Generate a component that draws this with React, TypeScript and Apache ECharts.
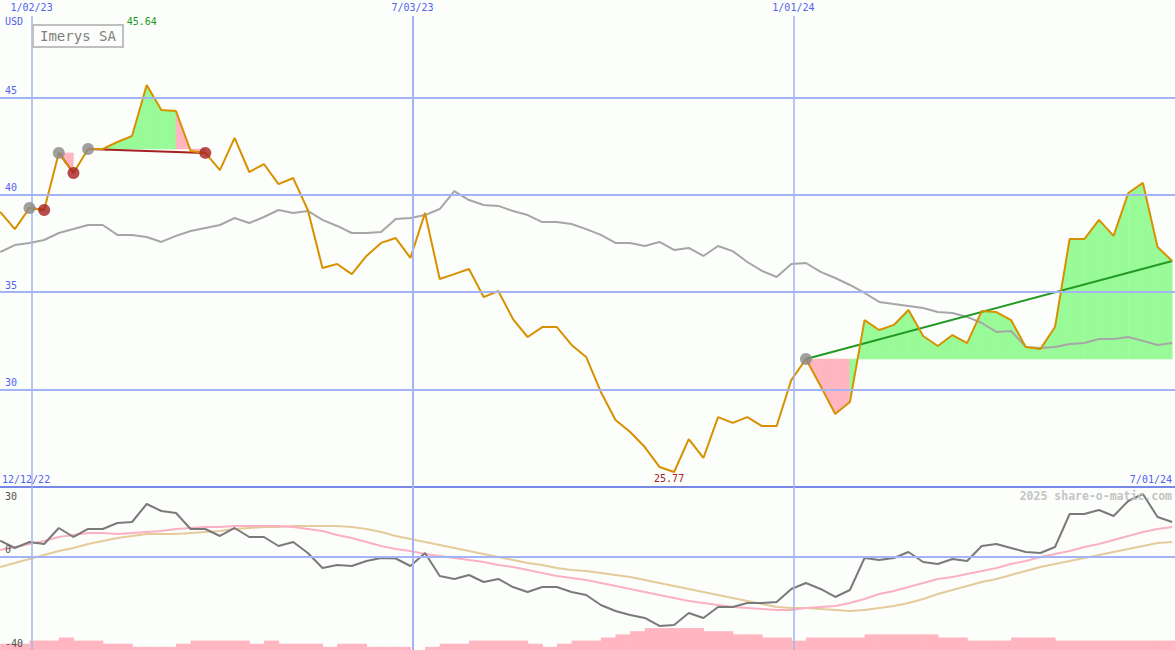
import React, { useEffect, useRef } from "react";
import * as echarts from "echarts";

// ---- data (weekly, index 0 = week of 18 Dec 2022) ----
const START_DATE = Date.UTC(2022, 11, 18);
const WEEK_MS = 7 * 86400000;

const price = [
  39.12, 38.24, 39.32, 39.22, 42.15, 41.12, 42.35, 42.35, 42.71, 43.02,
  45.64, 44.35, 44.3, 42.25, 42.15, 41.27, 42.92, 41.17, 41.58, 40.55,
  40.86, 39.22, 36.24, 36.45, 35.93, 36.86, 37.53, 37.78, 36.76, 39.07,
  35.68, 35.93, 36.19, 34.75, 35.06, 33.62, 32.7, 33.21, 33.21, 32.29,
  31.67, 29.88, 28.44, 27.82, 27.05, 26.03, 25.77, 27.46, 26.49, 28.59,
  28.29, 28.59, 28.13, 28.13, 30.49, 31.57, 30.18, 28.75, 29.36, 33.57,
  33.06, 33.32, 34.09, 32.75, 32.24, 32.8, 32.39, 34.03, 33.98, 33.57,
  32.19, 32.08, 33.21, 37.73, 37.73, 38.71, 37.89, 40.09, 40.61, 37.32,
  36.6,
];

const movingAvg = [
  37.06, 37.42, 37.53, 37.68, 38.04, 38.24, 38.45, 38.45, 37.94, 37.94,
  37.83, 37.58, 37.89, 38.14, 38.3, 38.45, 38.81, 38.55, 38.86, 39.22,
  39.07, 39.17, 38.71, 38.4, 38.04, 38.04, 38.09, 38.76, 38.81, 38.96,
  39.27, 40.19, 39.73, 39.48, 39.43, 39.17, 38.96, 38.6, 38.6, 38.5,
  38.24, 37.94, 37.53, 37.53, 37.37, 37.58, 37.17, 37.27, 36.86, 37.37,
  37.11, 36.55, 36.09, 35.78, 36.45, 36.5, 36.04, 35.73, 35.37, 34.96,
  34.5, 34.39, 34.29, 34.19, 33.98, 33.93, 33.73, 33.42, 32.96, 33.01,
  32.19, 32.14, 32.19, 32.34, 32.39, 32.6, 32.6, 32.7, 32.5, 32.29,
  32.39,
];

const oscillator = [
  6.94, 3.81, 6.38, 5.53, 12.4, 8.53, 11.97, 11.97, 14.54, 14.97,
  22.7, 19.7, 18.84, 11.97, 11.97, 8.96, 12.4, 8.53, 8.53, 4.67,
  6.38, 1.66, -4.78, -3.49, -3.92, -1.77, -0.49, -0.7, -3.92, 1.66,
  -8.21, -9.5, -7.78, -10.79, -9.5, -12.95, -15.08, -12.95, -12.95, -15.08,
  -16.37, -20.66, -23.24, -24.96, -26.25, -29.68, -29.25, -24.1, -26.25, -21.52,
  -21.52, -19.81, -19.81, -19.38, -13.8, -11.22, -13.8, -17.23, -14.23, -0.49,
  -1.34, -0.49, 2.09, -2.2, -3.06, -0.92, -1.77, 4.67, 5.53, 3.81,
  2.09, 1.66, 4.24, 18.41, 18.41, 20.12, 17.55, 23.99, 26.99, 17.12,
  14.97,
];

const oscFast = [
  2.95, 4.24, 5.53, 6.81, 8.53, 9.39, 10.25, 10.25, 9.82, 10.25,
  10.68, 11.11, 11.97, 12.4, 12.83, 12.83, 13.25, 13.25, 13.25, 13.25,
  12.83, 11.97, 11.11, 9.39, 8.1, 6.38, 4.67, 3.38, 2.52, 1.23,
  0.37, -0.49, -1.34, -2.2, -3.49, -4.35, -5.64, -6.93, -8.21, -9.07,
  -9.93, -11.22, -12.51, -13.8, -15.08, -16.37, -17.66, -18.95, -19.81, -20.66,
  -21.52, -21.95, -22.38, -22.81, -22.81, -21.95, -21.52, -21.09, -19.81, -18.09,
  -15.94, -14.65, -12.94, -11.22, -9.5, -8.64, -7.35, -6.07, -4.78, -3.06,
  -1.77, -0.06, 1.23, 2.52, 4.24, 5.53, 7.24, 8.96, 10.68, 11.97,
  12.83,
];

const oscSlow = [
  -4.35, -2.63, -0.91, 0.8, 2.52, 3.81, 5.53, 6.81, 8.1, 8.96,
  9.82, 9.82, 9.82, 10.25, 10.68, 11.11, 11.97, 12.4, 12.83, 12.83,
  13.25, 13.25, 13.25, 13.25, 12.83, 11.97, 10.68, 8.96, 7.67, 6.38,
  5.1, 3.81, 2.52, 1.23, -0.06, -1.34, -2.63, -3.49, -4.78, -5.64,
  -6.07, -6.93, -7.78, -8.64, -9.93, -11.22, -12.51, -13.8, -15.08, -16.37,
  -17.66, -18.95, -20.24, -21.52, -21.95, -21.95, -22.38, -22.81, -23.24, -22.81,
  -21.95, -21.09, -19.81, -18.09, -15.94, -14.22, -12.51, -10.79, -9.5, -7.78,
  -6.07, -4.35, -3.06, -1.77, -0.49, 0.8, 2.09, 3.38, 4.67, 5.96,
  6.38,
];

const volume = [
  2, 2, 3, 3, 4, 3, 3, 2, 2, 1,
  1, 1, 2, 3, 3, 3, 3, 2, 3, 2,
  2, 2, 1, 2, 2, 1, 1, 1, 0, 1,
  2, 2, 3, 3, 3, 3, 2, 1, 2, 3,
  3, 4, 5, 6, 7, 7, 7, 7, 6, 6,
  5, 5, 4, 4, 3, 4, 4, 4, 4, 5,
  5, 5, 5, 5, 4, 4, 3, 3, 3, 4,
  4, 4, 3, 3, 3, 3, 3, 3, 3, 3,
  3,
];

// trades: entry / exit week index (last one still open)
const trades = [
  { entry: 2, exit: 3, open: false },
  { entry: 4, exit: 5, open: false },
  { entry: 6, exit: 14, open: false },
  { entry: 55, exit: 80, open: true },
];

const dateLines = [
  { label: "1/02/23", date: Date.UTC(2023, 0, 2) },
  { label: "7/03/23", date: Date.UTC(2023, 6, 3) },
  { label: "1/01/24", date: Date.UTC(2024, 0, 1) },
];
const priceTicks = [30, 35, 40, 45];
const rangeStartLabel = "12/12/22";
const rangeEndLabel = "7/01/24";
const stockName = "Imerys SA";
const currency = "USD";
const copyright = "2025 share-o-matic.com";

// ---- styles ----
const MONO = '"DejaVu Sans Mono", "Liberation Mono", monospace';
const BLUE_TEXT = "#5262ee";
const GRID = "#a3b3f3";
const SEP = "#7888e8";
const ORANGE = "#d99000";
const GREEN_FILL = "#98fb98";
const PINK_FILL = "#ffb6c1";
const GREEN_LINE = "#229922";
const RED_LINE = "#a52020";
const X_MIN = -0.0137;
const X_MAX = 80.191;
const dateLineWidths = [1.5, 2, 1.5];

const weekIndex = (ts: number) => (ts - START_DATE) / WEEK_MS;

function buildOption(): any {
  const fillSegments: number[][] = [];
  trades.forEach((t) => {
    const base = price[t.entry];
    for (let k = t.entry; k < t.exit; k++) {
      fillSegments.push([k, base, price[k], price[k + 1]]);
    }
  });

  const markers: any[] = [];
  trades.forEach((t) => {
    markers.push({ value: [t.entry, price[t.entry]], itemStyle: { color: "#888888" } });
    if (!t.open) markers.push({ value: [t.exit, price[t.exit]], itemStyle: { color: RED_LINE } });
  });

  const labelStyle = { color: BLUE_TEXT, fontFamily: MONO, fontSize: 10 };

  return {
    animation: false,
    backgroundColor: "#fcfefb",
    title: {
      text: stockName,
      left: 33,
      top: 25,
      padding: [4, 7, 4, 7],
      borderColor: "#c0c0c0",
      borderWidth: 2,
      textStyle: { color: "#808080", fontFamily: MONO, fontSize: 14, fontWeight: "normal" },
    },
    grid: [
      { left: 0, right: 0, top: 0, height: 487 },
      { left: 0, right: 0, top: 487, height: 163 },
    ],
    xAxis: [
      {
        type: "value", gridIndex: 0, min: X_MIN, max: X_MAX,
        axisLine: { show: true, onZero: false, lineStyle: { color: SEP, width: 2 } },
        axisTick: { show: false }, axisLabel: { show: false }, splitLine: { show: false },
      },
      { type: "value", gridIndex: 1, min: X_MIN, max: X_MAX, show: false, splitLine: { show: false } },
    ],
    yAxis: [
      {
        type: "value", gridIndex: 0, position: "left", min: 25, max: 50, interval: 5, z: 10,
        axisLine: { show: false }, axisTick: { show: false }, splitLine: { show: false },
        axisLabel: {
          inside: true, margin: 5, verticalAlign: "bottom", padding: [0, 0, 2, 0],
          ...labelStyle, showMinLabel: true, showMaxLabel: true,
          formatter: (v: number) => (priceTicks.includes(v) ? String(v) : ""),
        },
      },
      {
        type: "value", gridIndex: 1, position: "left", offset: 0, min: -40, max: 30, interval: 10, z: 10,
        axisLine: { show: false }, axisTick: { show: false }, splitLine: { show: false },
        showMinLabel: true, showMaxLabel: true,
        axisLabel: {
          inside: true, margin: 5, verticalAlign: "top", padding: [4, 0, 0, 0],
          color: "#505050", fontFamily: MONO, fontSize: 10,
          formatter: (v: number) => (v === 30 ? "30" : ""),
        },
      },
      {
        type: "value", gridIndex: 1, position: "left", offset: 0, min: -40, max: 30, interval: 10, z: 10,
        axisLine: { show: false }, axisTick: { show: false }, splitLine: { show: false },
        showMinLabel: true, showMaxLabel: true,
        axisLabel: {
          inside: true, margin: 5, verticalAlign: "bottom", padding: [0, 0, 2, 0],
          color: "#505050", fontFamily: MONO, fontSize: 10,
          formatter: (v: number) => (v === 0 || v === -40 ? String(v) : ""),
        },
      },
      { type: "value", gridIndex: 1, position: "right", min: 0, max: 52, show: false, splitLine: { show: false } },
    ],
    series: [
      {
        type: "line", xAxisIndex: 0, yAxisIndex: 0, data: [], z: 0, silent: true,
        markLine: {
          silent: true, symbol: ["none", "none"], animation: false,
          data: [
            ...priceTicks.map((v) => ({
              yAxis: v, lineStyle: { color: GRID, width: 2, type: "solid" }, label: { show: false },
            })),
            ...dateLines.map((d, j) => [
              {
                coord: [weekIndex(d.date), 25],
                lineStyle: { color: GRID, width: dateLineWidths[j], type: "solid" },
                label: { show: true, position: "end", distance: 3, formatter: d.label, ...labelStyle },
              },
              { coord: [weekIndex(d.date), 49.18] },
            ]),
          ],
        },
      },
      {
        type: "line", xAxisIndex: 1, yAxisIndex: 1, data: [], z: 0, silent: true,
        markLine: {
          silent: true, symbol: ["none", "none"], animation: false,
          data: [
            { yAxis: 0, lineStyle: { color: GRID, width: 2, type: "solid" }, label: { show: false } },
            ...dateLines.map((d, j) => ({
              xAxis: weekIndex(d.date),
              lineStyle: { color: GRID, width: dateLineWidths[j], type: "solid" },
              label: { show: false },
            })),
          ],
        },
      },
      {
        type: "custom", xAxisIndex: 1, yAxisIndex: 3, z: 1, clip: true, silent: true,
        data: volume.map((v, k) => [k, v]),
        renderItem: (_p: any, api: any) => {
          const k = api.value(0);
          const v = api.value(1);
          const a = api.coord([k, v]);
          const b = api.coord([k + 1, 0]);
          return {
            type: "rect",
            shape: { x: a[0], y: a[1], width: b[0] - a[0] + 0.6, height: b[1] - a[1] },
            style: { fill: PINK_FILL },
          };
        },
      },
      {
        type: "custom", xAxisIndex: 0, yAxisIndex: 0, z: 1, clip: true, silent: true,
        data: fillSegments,
        renderItem: (_p: any, api: any) => {
          const k = api.value(0);
          const base = api.value(1);
          const p0 = api.value(2);
          const p1 = api.value(3);
          const color = p1 >= base ? GREEN_FILL : PINK_FILL;
          return {
            type: "polygon",
            shape: {
              points: [api.coord([k, base]), api.coord([k, p0]), api.coord([k + 1, p1]), api.coord([k + 1, base])],
            },
            style: { fill: color, stroke: color, lineWidth: 0.5 },
          };
        },
      },
      {
        type: "line", xAxisIndex: 0, yAxisIndex: 0, z: 2, silent: true, showSymbol: false,
        data: movingAvg.map((v, k) => [k, v]),
        lineStyle: { color: "#a6a6a6", width: 2 },
      },
      ...trades.map((t) => ({
        type: "line", xAxisIndex: 0, yAxisIndex: 0, z: 3, silent: true, showSymbol: false,
        data: [[t.entry, price[t.entry]], [t.exit, price[t.exit]]],
        lineStyle: { color: price[t.exit] >= price[t.entry] ? GREEN_LINE : RED_LINE, width: 2 },
      })),
      {
        type: "line", xAxisIndex: 0, yAxisIndex: 0, z: 4, silent: true, showSymbol: false,
        data: price.map((v, k) => [k, v]),
        lineStyle: { color: ORANGE, width: 2 },
      },
      {
        type: "scatter", xAxisIndex: 0, yAxisIndex: 0, z: 5, silent: true,
        symbol: "circle", symbolSize: 12, data: markers,
      },
      {
        type: "line", xAxisIndex: 1, yAxisIndex: 1, z: 3, silent: true, showSymbol: false,
        data: oscSlow.map((v, k) => [k, v]),
        lineStyle: { color: "#e5cb9b", width: 2 },
      },
      {
        type: "line", xAxisIndex: 1, yAxisIndex: 1, z: 3, silent: true, showSymbol: false,
        data: oscFast.map((v, k) => [k, v]),
        lineStyle: { color: "#fbb0c4", width: 2 },
      },
      {
        type: "line", xAxisIndex: 1, yAxisIndex: 1, z: 4, silent: true, showSymbol: false,
        data: oscillator.map((v, k) => [k, v]),
        lineStyle: { color: "#7a7a7a", width: 2 },
      },
    ],
  };
}

function txt(x: number, y: number, text: string, fill: string, font: string, align: string, vAlign: string) {
  return {
    type: "text", x, y, silent: true, z: 100,
    style: { text, fill, font, textAlign: align, align, textVerticalAlign: vAlign, verticalAlign: vAlign },
  };
}

export default function App() {
  const ref = useRef<HTMLDivElement>(null);
  useEffect(() => {
    if (!ref.current) return;
    const chart = echarts.init(ref.current, undefined, { renderer: "svg" });
    chart.setOption(buildOption());

    const maxK = price.indexOf(Math.max(...price));
    const minK = price.indexOf(Math.min(...price));
    const pMax = chart.convertToPixel({ xAxisIndex: 0, yAxisIndex: 0 }, [maxK, price[maxK]]) as number[];
    const pMin = chart.convertToPixel({ xAxisIndex: 0, yAxisIndex: 0 }, [minK, price[minK]]) as number[];
    const f10 = `10px ${MONO}`;

    chart.setOption({
      graphic: [
        txt(5, 16, currency, BLUE_TEXT, f10, "left", "top"),
        txt(2, 479, rangeStartLabel, BLUE_TEXT, f10, "left", "middle"),
        txt(1172, 479, rangeEndLabel, BLUE_TEXT, f10, "right", "middle"),
        txt(1172, 496, copyright, "#c4c4c4", `bold 11.5px ${MONO}`, "right", "middle"),
        txt(pMax[0] - 5, 21, price[maxK].toFixed(2), GREEN_LINE, f10, "center", "middle"),
        txt(pMin[0] - 5, pMin[1] + 6.5, price[minK].toFixed(2), RED_LINE, f10, "center", "middle"),
      ],
    });
    return () => chart.dispose();
  }, []);
  return (
    <div
      ref={ref}
      style={{ position: "absolute", left: 0, top: 0, width: 1175, height: 650 }}
    />
  );
}
